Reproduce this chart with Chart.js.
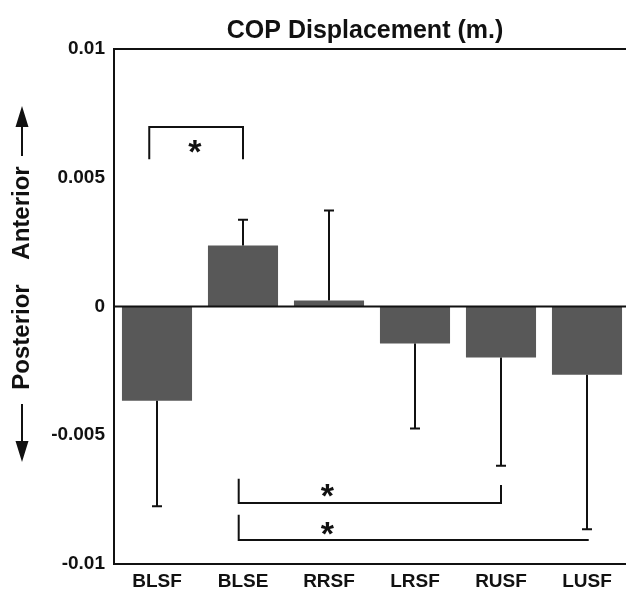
<!DOCTYPE html>
<html lang="en">
<head>
    <meta charset="UTF-8">
    <title>COP Displacement</title>
    <script src="https://cdn.jsdelivr.net/npm/chart.js"></script>
    <style>
        html, body { margin: 0; padding: 0; background: #fff; overflow: hidden; }
        #wrap { width: 630px; height: 590px; }
    </style>
</head>
<body>
    <div id="wrap">
        <canvas id="copChart" width="630" height="590"></canvas>
    </div>
    <script>
        // conditions and mean COP displacement (m), + SD shown one-sided
        const categories = ["BLSF", "BLSE", "RRSF", "LRSF", "RUSF", "LUSF"];
        const meanDisp = [-0.00366, 0.00237, 0.00023, -0.00144, -0.00198, -0.00265];
        const sdDisp = [0.0041, 0.0010, 0.0035, 0.0033, 0.0042, 0.0060];
        const yTicks = [-0.01, -0.005, 0, 0.005, 0.01];

        // significance brackets (category index / y value)
        const sigFrom = [-0.09, 0.95, 0.95];
        const sigTo = [1, 4, 5.02];
        const sigLevel = [0.00697, -0.00763, -0.00907];
        const sigFromTip = [0.00572, -0.00669, -0.00809];
        const sigToTip = [0.00572, -0.00693, -0.00907];
        const sigStarX = [0.44, 1.98, 1.98];
        const sigStarY = [0.00611, -0.00724, -0.00872];
        const sigLabel = ["*", "*", "*"];

        const ink = "#111";
        const FONT = "'Liberation Sans', Arial, sans-serif";

        const extras = {
            id: "extras",
            afterDatasetsDraw(chart) {
                const { ctx, chartArea: a, scales: { x, y } } = chart;
                ctx.save();
                ctx.strokeStyle = ink;
                ctx.lineWidth = 2;

                // zero line
                ctx.beginPath();
                ctx.moveTo(a.left, y.getPixelForValue(0));
                ctx.lineTo(a.right, y.getPixelForValue(0));
                ctx.stroke();

                // error bars (away from zero)
                meanDisp.forEach((m, i) => {
                    const px = x.getPixelForValue(i);
                    const end = m >= 0 ? m + sdDisp[i] : m - sdDisp[i];
                    const y0 = y.getPixelForValue(m);
                    const y1 = y.getPixelForValue(end);
                    ctx.beginPath();
                    ctx.moveTo(px, y0);
                    ctx.lineTo(px, y1);
                    ctx.moveTo(px - 5, y1);
                    ctx.lineTo(px + 5, y1);
                    ctx.stroke();
                });

                // brackets
                sigFrom.forEach((f, i) => {
                    const x0 = x.getPixelForValue(f);
                    const x1 = x.getPixelForValue(sigTo[i]);
                    const yl = y.getPixelForValue(sigLevel[i]);
                    ctx.beginPath();
                    ctx.moveTo(x0, y.getPixelForValue(sigFromTip[i]));
                    ctx.lineTo(x0, yl);
                    ctx.lineTo(x1, yl);
                    ctx.lineTo(x1, y.getPixelForValue(sigToTip[i]));
                    ctx.stroke();

                    ctx.fillStyle = ink;
                    ctx.font = "bold 34px " + FONT;
                    ctx.textAlign = "center";
                    ctx.textBaseline = "alphabetic";
                    ctx.fillText(sigLabel[i], x.getPixelForValue(sigStarX[i]), y.getPixelForValue(sigStarY[i]) + 14);
                });

                // frame
                ctx.beginPath();
                ctx.moveTo(a.right + 2, a.top);
                ctx.lineTo(a.left, a.top);
                ctx.lineTo(a.left, a.bottom);
                ctx.lineTo(a.right + 2, a.bottom);
                ctx.stroke();

                // title
                ctx.fillStyle = ink;
                ctx.font = "bold 25px " + FONT;
                ctx.textAlign = "center";
                ctx.textBaseline = "middle";
                ctx.fillText("COP Displacement (m.)", 365, 31);

                // y axis title with arrows
                ctx.save();
                ctx.translate(22, 0);
                ctx.rotate(-Math.PI / 2);
                ctx.font = "bold 24px " + FONT;
                ctx.fillText("Posterior", -337, 0);
                ctx.fillText("Anterior", -213, 0);
                ctx.restore();

                ctx.beginPath();
                ctx.moveTo(22, 156);
                ctx.lineTo(22, 122);
                ctx.moveTo(22, 404);
                ctx.lineTo(22, 446);
                ctx.stroke();
                ctx.beginPath();
                ctx.moveTo(22, 106);
                ctx.lineTo(15.5, 127);
                ctx.lineTo(28.5, 127);
                ctx.closePath();
                ctx.moveTo(22, 462);
                ctx.lineTo(15.5, 441);
                ctx.lineTo(28.5, 441);
                ctx.closePath();
                ctx.fill();
                ctx.restore();
            }
        };

        new Chart(document.getElementById("copChart"), {
            type: "bar",
            data: {
                labels: categories,
                datasets: [{
                    data: meanDisp,
                    backgroundColor: "#585858",
                    borderWidth: 0,
                    categoryPercentage: 1,
                    barPercentage: 0.815
                }]
            },
            options: {
                responsive: false,
                animation: false,
                layout: { padding: { top: 49, left: 0, right: 0, bottom: 0 } },
                plugins: {
                    legend: { display: false },
                    tooltip: { enabled: false },
                    title: { display: false }
                },
                scales: {
                    x: {
                        grid: { display: false, drawTicks: false },
                        border: { display: false },
                        ticks: {
                            color: ink,
                            padding: 6,
                            maxRotation: 0,
                            font: { family: FONT, size: 19, weight: "bold" }
                        },
                        afterFit(scale) { scale.height = 26; }
                    },
                    y: {
                        min: -0.01,
                        max: 0.01,
                        grid: { display: false, drawTicks: false },
                        border: { display: false },
                        afterBuildTicks(scale) {
                            scale.ticks = yTicks.map(v => ({ value: v }));
                        },
                        ticks: {
                            color: ink,
                            padding: 9,
                            font: { family: FONT, size: 19, weight: "bold" },
                            callback: v => String(v)
                        },
                        afterFit(scale) { scale.width = 114; }
                    }
                }
            },
            plugins: [extras]
        });
    </script>
</body>
</html>
